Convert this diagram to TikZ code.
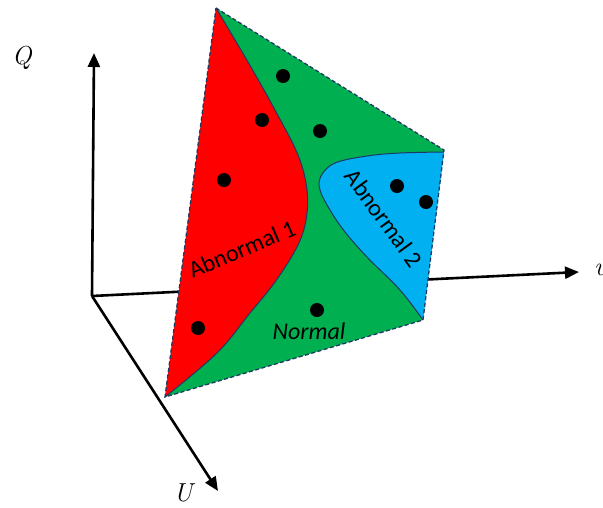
\documentclass[tikz,border=0pt]{standalone}
\usepackage{fontspec}
\newfontfamily\labelfont{Carlito}
\usetikzlibrary{arrows.meta}
\definecolor{regred}{HTML}{FF0000}
\definecolor{reggreen}{HTML}{00B050}
\definecolor{regblue}{HTML}{00B0F0}
\definecolor{edgenavy}{HTML}{203864}
\tikzset{
  axis/.style={line width=2.6pt,-{Triangle[length=14pt,width=12pt]}},
  axislabel/.style={font=\itshape\fontsize{26}{30}\selectfont,inner sep=0pt},
  regionlabel/.style={font=\labelfont\fontsize{24}{28}\selectfont,inner sep=0pt},
  sample/.style={fill=black},
  boundary/.style={draw=edgenavy,line width=1pt},
  rim/.style={draw=edgenavy,line width=1.3pt,dash pattern=on 4pt off 2.5pt}
}
\begin{document}
\begin{tikzpicture}[x=1pt,y=-1pt]
\useasboundingbox (0,0) rectangle (603,507);
% axes
\coordinate (O) at (92,296);
\coordinate (Qend) at (94,53);
\coordinate (Vend) at (579,272);
\coordinate (Uend) at (218,491);
\draw[axis] (O) -- (Qend);
\draw[axis] (O) -- (Vend);
\draw[axis] (O) -- (Uend);
\node[axislabel] (Q) at (22,58) {Q};
\node[axislabel] (V) at (600,270) {v};
\node[axislabel] (U) at (183,493) {U};
% plane
\coordinate (A) at (216,8);
\coordinate (B) at (444,150);
\coordinate (C) at (423,320);
\coordinate (D) at (165,397);
\fill[reggreen] (A) -- (B) -- (C) -- (D) -- cycle;
\fill[regred] plot[smooth,tension=0.6] coordinates {(216,8) (248,62) (275,110) (298,155) (307,190) (306,220) (297,247) (275,282) (250,313) (217,353) (165,397)} -- cycle;
\fill[regblue] plot[smooth,tension=0.6] coordinates {(444,152) (400,153) (367,156) (335,163) (321,176) (320,190) (330,210) (345,232) (367,257) (400,290) (423,320)} -- cycle;
\draw[boundary] plot[smooth,tension=0.6] coordinates {(216,8) (248,62) (275,110) (298,155) (307,190) (306,220) (297,247) (275,282) (250,313) (217,353) (165,397)};
\draw[boundary] plot[smooth,tension=0.6] coordinates {(444,152) (400,153) (367,156) (335,163) (321,176) (320,190) (330,210) (345,232) (367,257) (400,290) (423,320)};
\draw[rim] (A) -- (B) -- (C) -- (D) -- cycle;
% samples
\foreach \p in {(283,76),(262,120),(320,131),(224,180),(397,186),(426,202),(317,310),(198,328)}
  \fill[sample] \p circle (7);
% labels
\node[regionlabel,rotate=23] (ab1) at (242,249) {Abnormal 1};
\node[regionlabel,rotate=-54] (ab2) at (384,218) {Abnormal 2};
\node[regionlabel,font=\labelfont\itshape\fontsize{24}{28}\selectfont] (nor) at (309,331) {Normal};
\end{tikzpicture}
\end{document}
